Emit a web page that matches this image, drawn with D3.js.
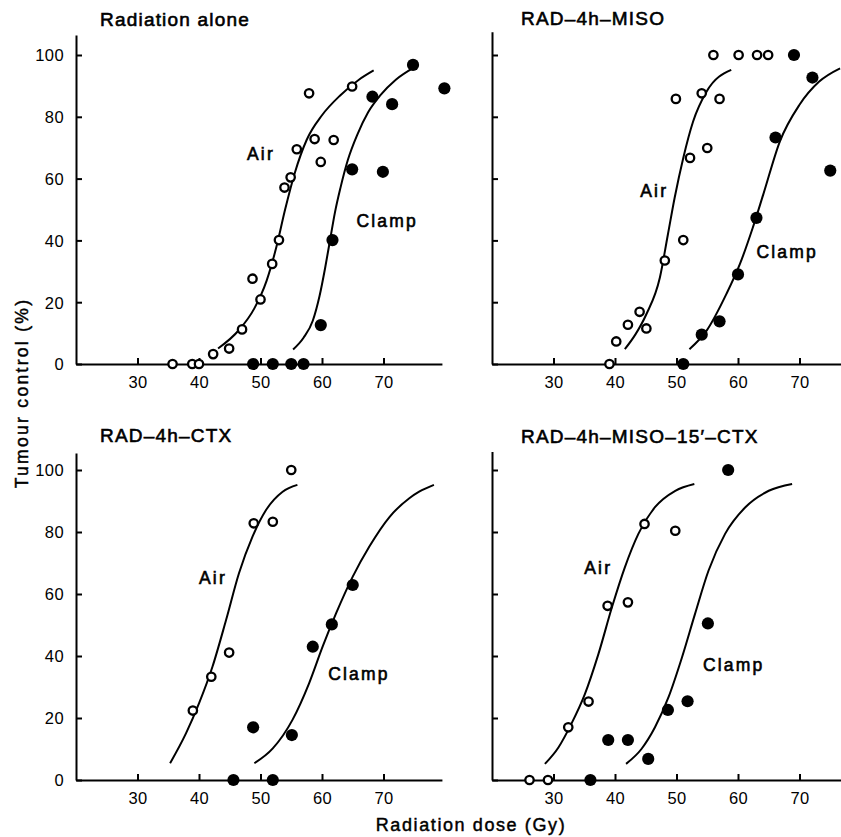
<!DOCTYPE html>
<html>
<head>
<meta charset="utf-8">
<script src="https://cdn.jsdelivr.net/npm/d3@7"></script>
<style>
  body { margin: 0; background: #fff; }
  svg { display: block; font-family: "Liberation Sans", Arial, sans-serif; }
</style>
</head>
<body>
<svg id="chart" width="841" height="837"></svg>
<script>
// ---- data: [dose (Gy), tumour control (%)]
const titles = ["Radiation alone", "RAD\u20134h\u2013MISO", "RAD\u20134h\u2013CTX", "RAD\u20134h\u2013MISO\u201315\u2032\u2013CTX"];
const xTicks = [30, 40, 50, 60, 70];
const yTicks = [0, 20, 40, 60, 80, 100];

// Radiation alone
const aloneAir = [[35.7,0],[38.9,0],[40.0,0],[42.3,3.2],[44.9,5.0],[47.0,11.2],[48.7,27.6],[50.0,20.9],
  [51.9,32.4],[53.0,40.1],[53.9,57.1],[54.9,60.4],[55.9,69.5],[57.9,87.6],[58.8,72.8],[59.8,65.4],
  [61.9,72.5],[64.9,89.8]];
const aloneClamp = [[48.8,0],[52.0,0],[55.0,0],[57.0,0],[59.8,12.6],[61.7,40.1],[64.9,63.0],[68.2,86.5],
  [69.9,62.2],[71.4,84.1],[74.8,96.8],[79.9,89.2]];
const aloneAirFit = [[43.1,5],[46.5,11],[49,18],[51,27],[52.6,38],[54,50],[55.6,62],[57.5,72.5],
  [60,80.5],[63,87],[66,92],[68.4,95]];
const aloneClampFit = [[55.3,4.7],[57,8.5],[58.5,14],[59.6,22],[60.5,31],[61.3,40],[62.1,49],[63,57],
  [64.2,66],[65.8,74.5],[67.5,81.5],[69.5,87],[72,92],[75,96]];

// RAD-4h-MISO
const misoAir = [[39.1,0],[40.2,7.3],[42.1,12.7],[44.0,16.9],[45.1,11.5],[48.1,33.5],[51.1,40.1],[49.9,85.8],
  [52.2,66.7],[54.1,87.6],[55.0,69.9],[57.0,85.8],[56.0,100],[60.1,100],[63.1,100],[64.9,100]];
const misoClamp = [[51.1,0],[54.1,9.5],[57.0,13.8],[60.0,29.0],[63.0,47.3],[66.1,73.3],[69.1,100],
  [72.1,92.7],[75.0,62.6]];
const misoAirFit = [[41.6,4.8],[43.3,9.5],[45.1,16.1],[47.3,28],[48.6,41.9],[49.7,53.8],[51.1,66.7],
  [52.7,78.5],[54.9,88.2],[58.9,95.2]];
const misoClampFit = [[52.1,4.8],[54.9,10.8],[58.1,22.6],[60.3,32.3],[62.4,44.1],[64.1,54.8],[66.8,72],
  [70.0,83.9],[73.2,91.4],[76.6,95.7]];

// RAD-4h-CTX
const ctxAir = [[39.0,22.4],[42.0,33.3],[44.9,41.1],[48.9,82.8],[52.0,83.3],[55.0,100]];
const ctxClamp = [[45.6,0],[52.0,0],[48.8,17.0],[55.1,14.5],[58.5,43.0],[61.6,50.2],[65.0,62.9]];
const ctxAirFit = [[35.3,5.4],[37.9,15.1],[40.0,24.7],[42.2,36.6],[44.4,51.6],[46.5,66.7],[48.7,78.5],
  [50.9,87.1],[53.6,93],[56.0,95.2]];
const ctxClampFit = [[49.0,5.4],[52.0,10.2],[55.2,19.4],[57.9,31.2],[60.1,43],[62.3,53.8],[65.0,65.6],
  [67.7,75.3],[71.0,84.9],[74.2,90.9],[75.8,93],[78.2,95.2]];

// RAD-4h-MISO-15'-CTX
const bothAir = [[26.1,0],[29.1,0],[32.4,17.0],[35.7,25.3],[38.8,56.2],[42.1,57.3],[44.8,82.6],[49.8,80.4]];
const bothClamp = [[36.0,0],[38.9,12.9],[42.1,12.9],[45.4,6.8],[48.6,22.6],[51.8,25.4],[55.1,50.5],[58.4,100]];
const bothAirFit = [[28.6,5.2],[30.8,10.5],[32.9,18.1],[35.1,27.7],[37.3,40.6],[39.5,55.7],[41.6,68.6],
  [43.8,79.4],[46.5,88],[49.8,93.3],[52.9,95.5]];
const bothClampFit = [[41.8,5.2],[44.3,10],[46.5,17],[48.7,26.7],[50.9,39.6],[53.0,53.5],[55.2,67.5],
  [57.9,79.4],[61.2,88],[65.0,93.3],[68.8,95.5]];

// ---- layout
const svg = d3.select("#chart");
const pxPerGy = 6.15;
const font = "\"Liberation Sans\", Arial, sans-serif";

const panels = [
  {title: titles[0], air: aloneAir, clamp: aloneClamp, airFit: aloneAirFit, clampFit: aloneClampFit,
   x0: 76, y0: 364, pxPerPct: 3.09, yTop: 106.5, labels: true, tx: 100, ty: 26,
   airLab: [47.8, 66], clampLab: [65.6, 44.2]},
  {title: titles[1], air: misoAir, clamp: misoClamp, airFit: misoAirFit, clampFit: misoClampFit,
   x0: 492, y0: 364, pxPerPct: 3.09, yTop: 107.5, labels: false, tx: 521, ty: 25,
   airLab: [44.1, 54.1], clampLab: [63.0, 34.2]},
  {title: titles[2], air: ctxAir, clamp: ctxClamp, airFit: ctxAirFit, clampFit: ctxClampFit,
   x0: 76, y0: 780, pxPerPct: 3.1, yTop: 105.5, labels: true, tx: 100, ty: 442,
   airLab: [40.0, 63.2], clampLab: [61.0, 32.3]},
  {title: titles[3], air: bothAir, clamp: bothClamp, airFit: bothAirFit, clampFit: bothClampFit,
   x0: 492, y0: 780, pxPerPct: 3.1, yTop: 106, labels: false, tx: 521, ty: 443,
   airLab: [35.0, 66.5], clampLab: [54.3, 35.3]}
];

function drawPanel(p) {
  const x = d3.scaleLinear().domain([20, 79.5]).range([p.x0, p.x0 + 59.5 * pxPerGy]);
  const y = d3.scaleLinear().domain([0, p.yTop]).range([p.y0, p.y0 - p.yTop * p.pxPerPct]);
  const g = svg.append("g");

  // x axis, ticks pointing up into the plot
  const xa = g.append("g")
      .attr("transform", "translate(0," + p.y0 + ")")
      .call(d3.axisBottom(x).tickValues(xTicks).tickSizeInner(-6).tickSizeOuter(0).tickPadding(12));
  // y axis, ticks pointing right
  const ya = g.append("g")
      .attr("transform", "translate(" + p.x0 + ",0)")
      .call(d3.axisLeft(y).tickValues(yTicks).tickSizeInner(-6).tickSizeOuter(0).tickPadding(12)
        .tickFormat(p.labels ? d3.format("d") : () => ""));

  [xa, ya].forEach(a => {
    a.attr("font-family", font).attr("font-size", 16.5);
    a.selectAll("path, line").attr("stroke", "#000").attr("stroke-width", 2);
    a.selectAll("text").attr("fill", "#000").style("letter-spacing", "0.4px");
  });
  ya.selectAll("text").attr("dy", "0.36em");

  // fitted curves
  const line = d3.line().x(d => x(d[0])).y(d => y(d[1])).curve(d3.curveMonotoneX);
  [p.airFit, p.clampFit].forEach(c => {
    g.append("path").datum(c)
      .attr("d", line)
      .attr("fill", "none")
      .attr("stroke", "#000")
      .attr("stroke-width", 2);
  });

  // points: open = air, filled = clamp
  g.append("g").selectAll("circle").data(p.air).join("circle")
      .attr("cx", d => x(d[0])).attr("cy", d => y(d[1]))
      .attr("r", 4.2)
      .attr("fill", "#fff").attr("stroke", "#000").attr("stroke-width", 2.3);
  g.append("g").selectAll("circle").data(p.clamp).join("circle")
      .attr("cx", d => x(d[0])).attr("cy", d => y(d[1]))
      .attr("r", 6.1)
      .attr("fill", "#000");

  // curve labels
  [["Air", p.airLab], ["Clamp", p.clampLab]].forEach(l => {
    g.append("text")
      .attr("x", x(l[1][0])).attr("y", y(l[1][1]))
      .attr("font-size", 17.5)
      .style("letter-spacing", "2.2px")
      .attr("stroke", "#000").attr("stroke-width", 0.6)
      .text(l[0]);
  });

  // panel title
  g.append("text")
    .attr("x", p.tx).attr("y", p.ty)
    .attr("font-size", 19)
    .style("letter-spacing", "1.2px")
    .attr("stroke", "#000").attr("stroke-width", 0.6)
    .text(p.title);
}

panels.forEach(drawPanel);

// shared axis titles
svg.append("text")
  .attr("transform", "translate(28,393) rotate(-90)")
  .attr("text-anchor", "middle")
  .attr("font-size", 17.5)
  .style("letter-spacing", "2.3px")
  .attr("stroke", "#000").attr("stroke-width", 0.45)
  .text("Tumour control (%)");

svg.append("text")
  .attr("x", 471).attr("y", 831)
  .attr("text-anchor", "middle")
  .attr("font-size", 18)
  .style("letter-spacing", "1.6px")
  .attr("stroke", "#000").attr("stroke-width", 0.45)
  .text("Radiation dose (Gy)");
</script>
</body>
</html>
